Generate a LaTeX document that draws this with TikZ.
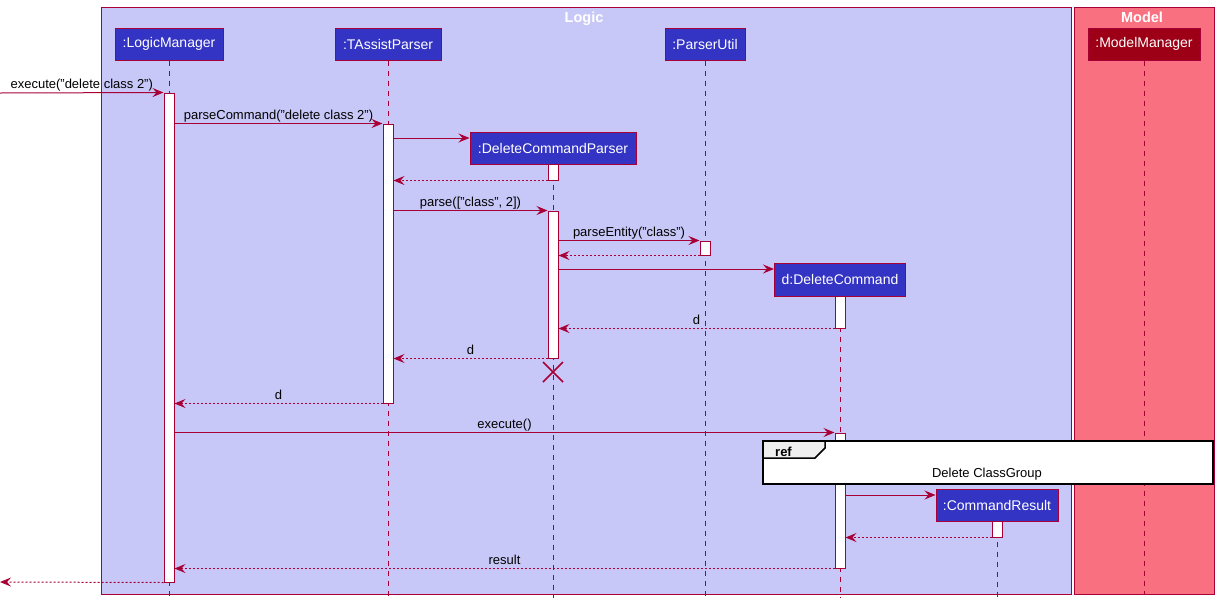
\documentclass[tikz,border=0pt]{standalone}
\usepackage{fontspec}
\setmainfont{Liberation Sans}
\usetikzlibrary{arrows.meta,calc}
\definecolor{bord}{HTML}{A80036}
\definecolor{logicfill}{HTML}{C8C8F8}
\definecolor{modelfill}{HTML}{F97181}
\definecolor{partfill}{HTML}{3434C4}
\definecolor{mmfill}{HTML}{9D0016}
\definecolor{tabfill}{HTML}{EEEEEE}
\begin{document}
\begin{tikzpicture}[x=1pt,y=-1pt,
  grp/.style={draw=bord, line width=1pt},
  grptitle/.style={text=white, font=\fontsize{14.5}{16}\selectfont\bfseries, inner sep=0, anchor=base},
  part/.style={draw=bord, fill=partfill, text=white, line width=1pt, inner sep=0,
    minimum height=32pt, font=\fontsize{14}{16}\selectfont},
  act/.style={draw=bord, fill=white, line width=1pt, minimum width=10pt, inner sep=0},
  life/.style={draw=bord, line width=1pt, dash pattern=on 5pt off 5pt},
  msg/.style={draw=bord, line width=1pt, -{Stealth[length=11pt, width=9pt, inset=4pt]}},
  ret/.style={msg, dash pattern=on 2pt off 2pt},
  lbl/.style={font=\fontsize{13}{15}\selectfont, text=black, inner sep=0, anchor=base, yshift=4.5pt},
]
\path[use as bounding box, fill=white] (0,0) rectangle (1219,606);

% groups
\draw[grp, fill=logicfill] (101,7) rectangle (1071,594);
\draw[grp, fill=modelfill] (1074,7) rectangle (1214,594);
\node[grptitle] (tLogic) at (584,22.5) {Logic};
\node[grptitle] (tModel) at (1142,22.5) {Model};

% participants
\node[part, minimum width=108pt] (lm) at (169,44) {:LogicManager};
\node[part, minimum width=106pt] (tp) at (388,44) {:TAssistParser};
\node[part, minimum width=80pt] (pu) at (705,44) {:ParserUtil};
\node[part, minimum width=112pt, fill=mmfill] (mm) at (1144,44) {:ModelManager};
\node[part, minimum width=166pt] (dcp) at (553,148) {:DeleteCommandParser};
\node[part, minimum width=131pt, minimum height=33pt] (dc) at (840,279.5) {d:DeleteCommand};
\node[part, minimum width=122pt] (cr) at (997,505) {:CommandResult};

% lifeline ends
\coordinate (lmE) at (169,598);
\coordinate (tpE) at (388,598);
\coordinate (puE) at (705,598);
\coordinate (mmE) at (1144,595);
\coordinate (dcpE) at (553,598);
\coordinate (dcE) at (840,598);
\coordinate (crE) at (997,598);
\draw[life] (lm.south) -- (lmE);
\draw[life] (tp.south) -- (tpE);
\draw[life] (pu.south) -- (puE);
\draw[life] (mm.south) -- (mmE);
\draw[life] (dcp.south) -- (dcpE);
\draw[life] (dc.south) -- (dcE);
\draw[life] (cr.south) -- (crE);

% activations
\node[act, minimum height=489pt] (lmA) at (169,337.5) {};
\node[act, minimum height=279pt] (tpA) at (388,263.5) {};
\node[act, minimum height=16pt] (dcpA1) at (553,172) {};
\node[act, minimum height=147pt] (dcpA2) at (553,284.5) {};
\node[act, minimum height=14pt] (puA) at (705,248) {};
\node[act, minimum height=32pt] (dcA1) at (840,312) {};
\node[act, minimum height=135pt] (dcA2) at (840,500.5) {};
\node[act, minimum height=16pt] (crA) at (997,529) {};

% messages
\coordinate (in1) at (0,93);
\draw[msg] (in1) -- (lmA.north west)
  node[lbl, midway] {execute("delete class 2")};
\draw[msg] (lmA.east |- tpA.north) -- (tpA.north west)
  node[lbl, midway] {parseCommand("delete class 2")};
\draw[msg] (tpA.east |- 0,138) -- (dcp.west |- 0,138);
\draw[ret] (dcpA1.south west) -- (tpA.east |- dcpA1.south);
\draw[msg] (tpA.east |- dcpA2.north) -- (dcpA2.north west)
  node[lbl, midway] {parse(["class", 2])};
\draw[msg] (dcpA2.east |- puA.north) -- (puA.north west)
  node[lbl, midway] {parseEntity("class")};
\draw[ret] (puA.south west) -- (dcpA2.east |- puA.south);
\draw[msg] (dcpA2.east |- 0,269) -- (dc.west |- 0,269);
\draw[ret] (dcA1.south west) -- (dcpA2.east |- dcA1.south)
  node[lbl, midway] {d};
\draw[ret] (dcpA2.south west) -- (tpA.east |- dcpA2.south)
  node[lbl, midway] {d};
% destroy
\coordinate (xc) at (553,372);
\draw[bord, line width=1.5pt] ($(xc)+(-10,-10)$) -- ($(xc)+(10,10)$)
  ($(xc)+(-10,10)$) -- ($(xc)+(10,-10)$);
\draw[ret] (tpA.south west) -- (lmA.east |- tpA.south)
  node[lbl, midway] {d};
\draw[msg] (lmA.east |- dcA2.north) -- (dcA2.north west)
  node[lbl, midway] {execute()};

% ref frame
\draw[black, line width=1.5pt, fill=white] (763,441) rectangle (1213,484);
\draw[black, line width=1.5pt, fill=tabfill] (763,441) -- (825,441) -- (825,448) -- (815,458) -- (763,458) -- cycle;
\node[font=\fontsize{13}{15}\selectfont\bfseries, inner sep=0, anchor=base west] (refl) at (775,456) {ref};
\node[font=\fontsize{13}{15}\selectfont, inner sep=0, anchor=base] (refb) at (987,477) {Delete ClassGroup};

\draw[msg] (dcA2.east |- 0,495) -- (cr.west |- 0,495);
\draw[ret] (crA.south west) -- (dcA2.east |- crA.south);
\draw[ret] (dcA2.south west) -- (lmA.east |- dcA2.south)
  node[lbl, midway] {result};
\coordinate (out1) at (0,582);
\draw[ret] (lmA.south west) -- (out1);
\end{tikzpicture}
\end{document}
